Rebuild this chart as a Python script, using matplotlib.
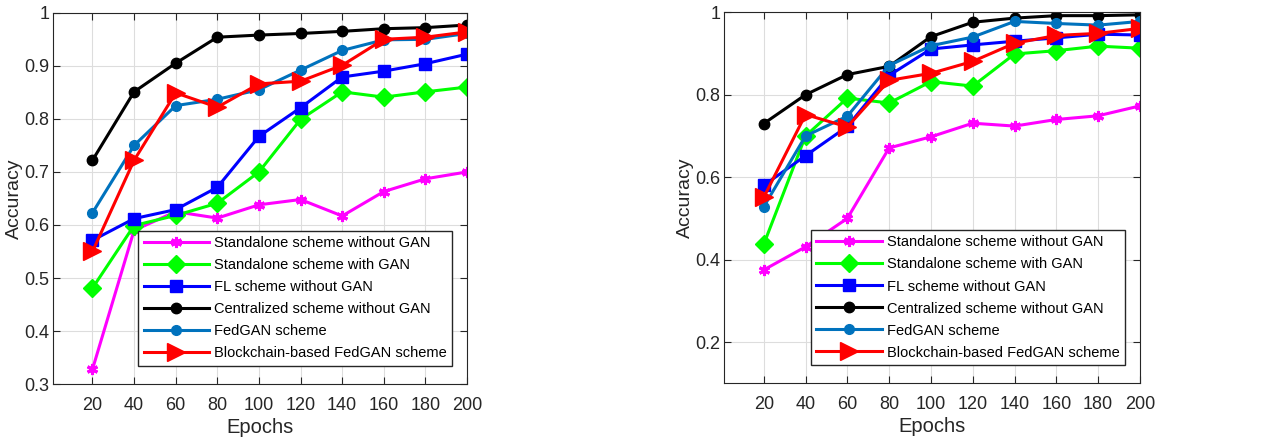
import numpy as np
import matplotlib
matplotlib.use("Agg")
import matplotlib.pyplot as plt

plt.rcParams['font.family'] = ['Liberation Sans', 'DejaVu Sans']

epochs = [20, 40, 60, 80, 100, 120, 140, 160, 180, 200]

labels = ['Standalone scheme without GAN', 'Standalone scheme with GAN',
          'FL scheme without GAN', 'Centralized scheme without GAN',
          'FedGAN scheme', 'Blockchain-based FedGAN scheme']

# left panel
left_standalone = [0.328, 0.59, 0.625, 0.613, 0.638, 0.648, 0.617, 0.663, 0.687, 0.700]
left_standalone_gan = [0.481, 0.599, 0.618, 0.641, 0.700, 0.799, 0.851, 0.841, 0.851, 0.860]
left_fl = [0.571, 0.612, 0.629, 0.671, 0.767, 0.821, 0.879, 0.890, 0.904, 0.922]
left_central = [0.722, 0.851, 0.905, 0.954, 0.958, 0.961, 0.965, 0.970, 0.972, 0.977]
left_fedgan = [0.623, 0.750, 0.825, 0.837, 0.855, 0.892, 0.929, 0.949, 0.950, 0.961]
left_bc = [0.550, 0.722, 0.849, 0.822, 0.866, 0.871, 0.901, 0.950, 0.954, 0.964]

# right panel
right_standalone = [0.375, 0.431, 0.500, 0.671, 0.698, 0.731, 0.724, 0.740, 0.749, 0.773]
right_standalone_gan = [0.437, 0.700, 0.792, 0.780, 0.832, 0.821, 0.899, 0.907, 0.918, 0.913]
right_fl = [0.580, 0.652, 0.723, 0.847, 0.911, 0.921, 0.930, 0.938, 0.947, 0.945]
right_central = [0.730, 0.800, 0.849, 0.869, 0.941, 0.976, 0.986, 0.992, 0.992, 0.994]
right_fedgan = [0.528, 0.700, 0.748, 0.871, 0.919, 0.940, 0.978, 0.973, 0.969, 0.978]
right_bc = [0.551, 0.752, 0.722, 0.835, 0.852, 0.881, 0.925, 0.944, 0.949, 0.961]

styles = [
    dict(color='#FF00FF', marker=(6, 2, 0), markersize=8, markeredgewidth=2.2),
    dict(color='#00FF00', marker='D', markersize=9),
    dict(color='#0000FF', marker='s', markersize=8),
    dict(color='#000000', marker='o', markersize=7.5),
    dict(color='#0072BD', marker='o', markersize=7),
    dict(color='#FF0000', marker='>', markersize=13),
]

fig = plt.figure(figsize=(12.76, 4.41), dpi=100)
ax1 = fig.add_axes([0.0415, 0.129, 0.3245, 0.842])
ax2 = fig.add_axes([0.5674, 0.131, 0.326, 0.841])

panels = [
    (ax1, [left_standalone, left_standalone_gan, left_fl, left_central, left_fedgan, left_bc],
     (0.3, 1.0), np.arange(0.3, 1.01, 0.1)),
    (ax2, [right_standalone, right_standalone_gan, right_fl, right_central, right_fedgan, right_bc],
     (0.1, 1.0), np.arange(0.2, 1.01, 0.2)),
]

for ax, series, ylim, yticks in panels:
    for vals, lab, st in zip(series, labels, styles):
        ax.plot(epochs, vals, label=lab, linewidth=2.2, **st)
    ax.set_xlim(1, 200)
    ax.set_ylim(*ylim)
    ax.set_xticks(epochs)
    ax.set_yticks(yticks)
    ax.set_yticklabels(['%g' % round(v, 1) for v in yticks])
    ax.grid(True, color='#DDDDDD', linewidth=0.8)
    ax.set_axisbelow(True)
    ax.tick_params(direction='in', top=True, right=True, labelsize=13,
                   colors='#262626', length=5)
    ax.tick_params(axis='x', pad=9)
    ax.tick_params(axis='y', pad=2.5)
    for sp in ax.spines.values():
        sp.set_color('#262626')
    ax.set_xlabel('Epochs', fontsize=14.5, color='#262626', labelpad=3)
    ax.set_ylabel('Accuracy', fontsize=14, color='#262626', labelpad=1)
    leg = ax.legend(loc='lower right', bbox_to_anchor=(0.964, 0.05), borderaxespad=0,
                    fontsize=10.5, handlelength=4.5, fancybox=False, edgecolor='#262626',
                    framealpha=1, borderpad=0.35, labelspacing=0.55, handletextpad=0.35)
    leg.get_frame().set_linewidth(1.0)

fig.savefig('out.png', dpi=100)
